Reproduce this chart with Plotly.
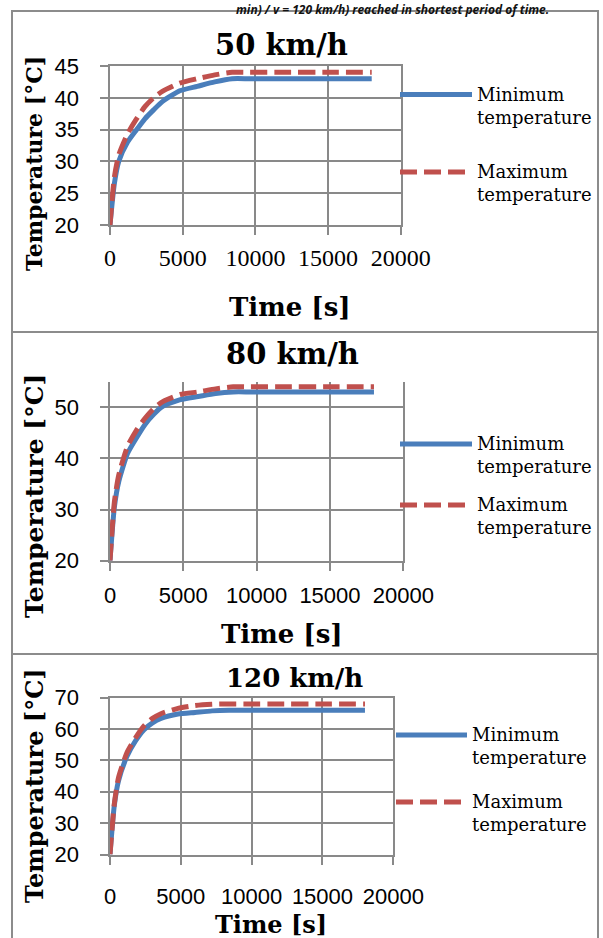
import plotly.graph_objects as go

W, H = 603, 938

# ---------------- data ----------------
time_s = [0, 300, 600, 1200, 1800, 2400, 3000, 3600, 4800, 6000, 7200, 8400, 9600, 12000, 15000, 18000]

min_50 = [20, 26.5, 30.0, 33.0, 34.9, 36.7, 38.1, 39.4, 41.1, 41.8, 42.5, 43.0, 43.0, 43.0, 43.0, 43.0]
max_50 = [20, 27.5, 31.0, 34.3, 36.6, 38.6, 40.0, 41.0, 42.3, 43.0, 43.6, 44.0, 44.0, 44.0, 44.0, 44.0]

min_80 = [20, 30.5, 35.5, 41.0, 44.0, 46.7, 48.7, 50.2, 51.5, 52.1, 52.7, 53.0, 53.0, 53.0, 53.0, 53.0]
max_80 = [20, 31.5, 36.8, 42.4, 45.5, 47.9, 49.8, 51.1, 52.5, 53.0, 53.6, 54.0, 54.0, 54.0, 54.0, 54.0]

min_120 = [20, 35.5, 43.5, 51.3, 56.2, 59.8, 62.0, 63.4, 64.8, 65.3, 65.8, 66.0, 66.0, 66.0, 66.0, 66.0]
max_120 = [20, 36.0, 44.5, 52.5, 57.2, 61.0, 63.4, 64.9, 66.6, 67.5, 67.9, 68.0, 68.0, 68.0, 68.0, 68.0]

panel_titles = ["50 km/h", "80 km/h", "120 km/h"]
series_names = ["Minimum<br>temperature", "Maximum<br>temperature"]
x_ticks = [0, 5000, 10000, 15000, 20000]
y_ticks_50 = [20, 25, 30, 35, 40, 45]
y_ticks_80 = [20, 30, 40, 50]
y_ticks_120 = [20, 30, 40, 50, 60, 70]
x_title = "Time [s]"
y_title = "Temperature [°C]"
caption = "min) / v = 120 km/h) reached in shortest period of time."

# ---------------- styling / layout ----------------
BLUE = "#4A7EBB"
RED = "#C0504D"
GRID = "#898989"
SERIF = "DejaVu Serif"
TSERIF = "Liberation Serif"
SANS = "Liberation Sans"
YPAD = "\u00a0\u00a0\u2009"  # gap between y tick labels and tick marks


def X(px):
    return px / W


def Y(py):
    return 1 - py / H


panels = [
    dict(mins=min_50, maxs=max_50, yticks=y_ticks_50, yrange=[20, 45], xmirror=True,
         x0=110, x1=400.8, ytop=66, ybot=225, xfont=TSERIF, xfs=24, xstand=2, yfont=SANS, yfs=22,
         title_xy=(281, 45), tfs=29, ytitle_y=164, ytfs=22, xtitle_xy=(290, 307), xtfs=26,
         leg_x0=400, leg_x1=472, leg_min=94.5, leg_max=172),
    dict(mins=min_80, maxs=max_80, yticks=y_ticks_80, yrange=[20, 55], xmirror=False,
         x0=110, x1=403.3, ytop=381.7, ybot=560.7, xfont=SANS, xfs=22, xstand=6, yfont=SANS, yfs=22,
         title_xy=(292, 354), tfs=29, ytitle_y=496, ytfs=25, xtitle_xy=(282, 634), xtfs=26,
         leg_x0=400, leg_x1=472, leg_min=444, leg_max=505),
    dict(mins=min_120, maxs=max_120, yticks=y_ticks_120, yrange=[20, 70], xmirror=True,
         x0=110, x1=393.3, ytop=697.7, ybot=854.5, xfont=SANS, xfs=22, xstand=13, yfont=SANS, yfs=22,
         title_xy=(294, 678), tfs=26, ytitle_y=786, ytfs=24, xtitle_xy=(271, 924), xtfs=24,
         leg_x0=396, leg_x1=467, leg_min=735, leg_max=802),
]

fig = go.Figure()
layout = dict(
    width=W, height=H, margin=dict(l=0, r=0, t=0, b=0, autoexpand=False),
    paper_bgcolor="white", plot_bgcolor="white", showlegend=False,
)
shapes = []
annotations = []

for i, p in enumerate(panels, start=1):
    xa = "x" if i == 1 else f"x{i}"
    ya = "y" if i == 1 else f"y{i}"
    fig.add_trace(go.Scatter(x=time_s, y=p["mins"], mode="lines", name="Minimum temperature",
                             line=dict(color=BLUE, width=5, shape="spline", smoothing=0.6),
                             xaxis=xa, yaxis=ya, hoverinfo="skip"))
    fig.add_trace(go.Scatter(x=time_s, y=p["maxs"], mode="lines", name="Maximum temperature",
                             line=dict(color=RED, width=5, dash="17px,7px", shape="spline", smoothing=0.6),
                             xaxis=xa, yaxis=ya, hoverinfo="skip"))
    xkey = "xaxis" if i == 1 else f"xaxis{i}"
    ykey = "yaxis" if i == 1 else f"yaxis{i}"
    layout[xkey] = dict(domain=[X(p["x0"]), X(p["x1"])], anchor=ya, range=[0, 20000],
                        tickvals=x_ticks, ticktext=[str(v) for v in x_ticks],
                        showgrid=True, gridcolor=GRID, gridwidth=2, zeroline=False,
                        showline=True, linecolor=GRID, linewidth=2, mirror=p["xmirror"],
                        ticks="outside", ticklen=8, tickwidth=2, tickcolor=GRID,
                        ticklabelstandoff=p["xstand"], automargin=False,
                        tickfont=dict(family=p["xfont"], size=p["xfs"], color="black"),
                        fixedrange=True)
    layout[ykey] = dict(domain=[Y(p["ybot"]), Y(p["ytop"])], anchor=xa, range=p["yrange"],
                        tickvals=p["yticks"], ticktext=[f"{v}{YPAD}" for v in p["yticks"]],
                        showgrid=True, gridcolor=GRID, gridwidth=2, zeroline=False,
                        showline=True, linecolor=GRID, linewidth=2, mirror=True,
                        ticks="outside", ticklen=8, tickwidth=2, tickcolor=GRID,
                        automargin=False,
                        tickfont=dict(family=p["yfont"], size=p["yfs"], color="black"),
                        fixedrange=True)
    tx, ty = p["title_xy"]
    annotations.append(dict(x=X(tx), y=Y(ty), xref="paper", yref="paper", text=f"<b>{panel_titles[i-1]}</b>",
                            showarrow=False, xanchor="center", yanchor="middle",
                            font=dict(family=SERIF, size=p["tfs"], color="black")))
    annotations.append(dict(x=X(34), y=Y(p["ytitle_y"]), xref="paper", yref="paper", text=f"<b>{y_title}</b>",
                            showarrow=False, textangle=-90, xanchor="center", yanchor="middle",
                            font=dict(family=SERIF, size=p["ytfs"], color="black")))
    xx, xy = p["xtitle_xy"]
    annotations.append(dict(x=X(xx), y=Y(xy), xref="paper", yref="paper", text=f"<b>{x_title}</b>",
                            showarrow=False, xanchor="center", yanchor="middle",
                            font=dict(family=SERIF, size=p["xtfs"], color="black")))
    shapes.append(dict(type="line", xref="paper", yref="paper", x0=X(p["leg_x0"]), x1=X(p["leg_x1"]),
                       y0=Y(p["leg_min"]), y1=Y(p["leg_min"]), line=dict(color=BLUE, width=5)))
    shapes.append(dict(type="line", xref="paper", yref="paper", x0=X(p["leg_x0"]), x1=X(p["leg_x1"]),
                       y0=Y(p["leg_max"]), y1=Y(p["leg_max"]), line=dict(color=RED, width=5, dash="17px,7px")))
    for name, ly in zip(series_names, (p["leg_min"], p["leg_max"])):
        annotations.append(dict(x=X(p["leg_x1"] + 3), y=Y(ly - 13), xref="paper", yref="paper", text=name,
                                showarrow=False, xanchor="left", yanchor="top", align="left",
                                font=dict(family=SERIF, size=18, color="black")))

# panel frames (kept inside the page)
BORDER = dict(color="#8C8C8C", width=2)
for (bx0, by0, bx1, by1) in [(12, 11, 598, 332), (12, 332, 598, 654)]:
    shapes.append(dict(type="rect", xref="paper", yref="paper", x0=X(bx0), x1=X(bx1), y0=Y(by1), y1=Y(by0),
                       line=BORDER, layer="below"))
for (lx0, ly0, lx1, ly1) in [(12, 654, 12, 938), (598, 654, 598, 938)]:
    shapes.append(dict(type="line", xref="paper", yref="paper", x0=X(lx0), x1=X(lx1), y0=Y(ly1), y1=Y(ly0),
                       line=BORDER, layer="below"))

annotations.append(dict(x=X(551), y=Y(-1), xref="paper", yref="paper", text=f"<i><b>{caption}</b></i>",
                        showarrow=False, xanchor="right", yanchor="top",
                        font=dict(family="Open Sans", size=12, color="#111111")))

layout["shapes"] = shapes
layout["annotations"] = annotations
fig.update_layout(**layout)
fig.write_html("out.html")
